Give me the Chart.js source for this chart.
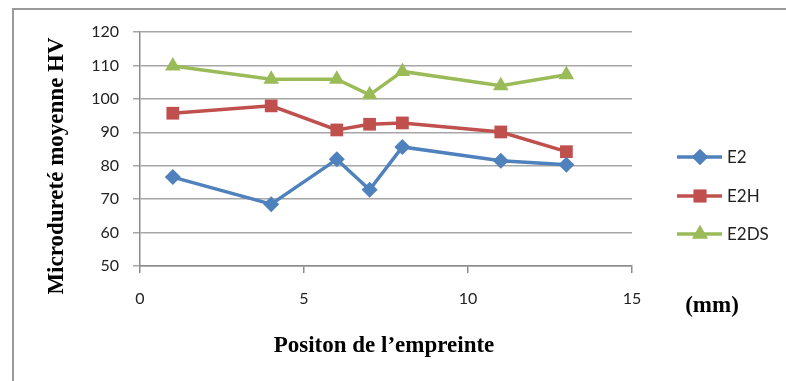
<!DOCTYPE html>
<html>
<head>
<meta charset="utf-8">
<script src="https://cdn.jsdelivr.net/npm/chart.js@4.4.1/dist/chart.umd.min.js"></script>
<style>
  html, body { margin: 0; padding: 0; background: #ffffff; }
  #wrap { width: 786px; height: 381px; position: relative; }
</style>
</head>
<body>
<div id="wrap"><canvas id="c" width="786" height="381"></canvas></div>
<script>
// Indentation positions (mm)
const positions = [1, 4, 6, 7, 8, 11, 13];
// Average microhardness HV per sample
const e2   = [76.6, 68.5, 81.9, 72.8, 85.6, 81.5, 80.3];
const e2h  = [95.7, 97.9, 90.7, 92.4, 92.8, 90.1, 84.2];
const e2ds = [109.8, 105.9, 105.9, 101.2, 108.2, 103.9, 107.2];
const seriesNames = ['E2', 'E2H', 'E2DS'];
const yTicks = [50, 60, 70, 80, 90, 100, 110, 120];
const xTicks = [0, 5, 10, 15];

const colors = ['#4F81BD', '#C0504D', '#9BBB59'];
const shapes = ['rectRot', 'rect', 'triangle'];
const radii = [8, 9, 9];

function toPoints(xs, ys) { return xs.map((x, i) => ({ x: x, y: ys[i] })); }

const datasets = [e2, e2h, e2ds].map((vals, i) => ({
  label: seriesNames[i],
  data: toPoints(positions, vals),
  borderColor: colors[i],
  backgroundColor: colors[i],
  pointBackgroundColor: colors[i],
  pointBorderColor: colors[i],
  pointBorderWidth: 0,
  pointStyle: shapes[i],
  pointRadius: radii[i],
  pointHoverRadius: radii[i],
  borderWidth: 3.5,
  tension: 0
}));

const tickFont = { family: 'Lato, "Noto Sans", sans-serif', size: 16 };
const titleFont = '"Liberation Serif", "DejaVu Serif", serif';

// Frame, axis titles, unit and legend
const decor = {
  id: 'decor',
  beforeDraw(chart) {
    const ctx = chart.ctx;
    ctx.save();
    ctx.strokeStyle = '#9a9a9a';
    ctx.lineWidth = 2;
    ctx.strokeRect(13, 9, 790, 400);
    ctx.restore();
  },
  afterDraw(chart) {
    const ctx = chart.ctx;
    ctx.save();
    ctx.fillStyle = '#000000';
    ctx.font = 'bold 23px ' + titleFont;
    ctx.textAlign = 'center';
    ctx.textBaseline = 'middle';
    // y title
    ctx.save();
    ctx.translate(57, 166);
    ctx.rotate(-Math.PI / 2);
    ctx.fillText('Microdureté moyenne HV', 0, 0);
    ctx.restore();
    // x title
    ctx.fillText('Positon de l\u2019empreinte', 384, 346);
    // unit
    ctx.fillText('(mm)', 712, 306);

    // legend: line with marker, then label
    const ys = [157, 196, 234];
    chart.data.datasets.forEach((ds, i) => {
      const y = ys[i];
      ctx.strokeStyle = ds.borderColor;
      ctx.lineWidth = 3.5;
      ctx.beginPath();
      ctx.moveTo(677, y);
      ctx.lineTo(722, y);
      ctx.stroke();
      ctx.fillStyle = ds.backgroundColor;
      Chart.helpers.drawPoint(ctx, { pointStyle: ds.pointStyle, radius: ds.pointRadius, rotation: 0, borderWidth: 0 }, 700, y);
      ctx.fill();
      ctx.fillStyle = '#222222';
      ctx.font = '17px ' + tickFont.family;
      ctx.textAlign = 'left';
      ctx.fillText(ds.label, 727, y + 1);
    });
    ctx.restore();
  }
};

new Chart(document.getElementById('c'), {
  type: 'line',
  data: { datasets: datasets },
  options: {
    responsive: false,
    animation: false,
    devicePixelRatio: 1,
    layout: { padding: { left: 0, right: 154, top: 32, bottom: 0 } },
    plugins: { legend: { display: false }, tooltip: { enabled: false } },
    scales: {
      x: {
        type: 'linear',
        min: 0,
        max: 15,
        afterBuildTicks(scale) { scale.ticks = xTicks.map(v => ({ value: v })); },
        afterFit(scale) { scale.height = 115; },
        grid: { drawOnChartArea: false, drawTicks: true, tickLength: 7, color: '#8c8c8c', lineWidth: 1.5 },
        border: { color: '#8c8c8c', width: 1.5 },
        ticks: { color: '#222222', font: tickFont, padding: 16, maxRotation: 0 }
      },
      y: {
        min: 50,
        max: 120,
        afterBuildTicks(scale) { scale.ticks = yTicks.map(v => ({ value: v })); },
        afterFit(scale) { scale.width = 140; },
        grid: { drawOnChartArea: true, drawTicks: true, tickLength: 7, color: '#a6a6a6', lineWidth: 1.5 },
        border: { color: '#8c8c8c', width: 1.5 },
        ticks: { color: '#222222', font: tickFont, padding: 14 }
      }
    }
  },
  plugins: [decor]
});
</script>
</body>
</html>
